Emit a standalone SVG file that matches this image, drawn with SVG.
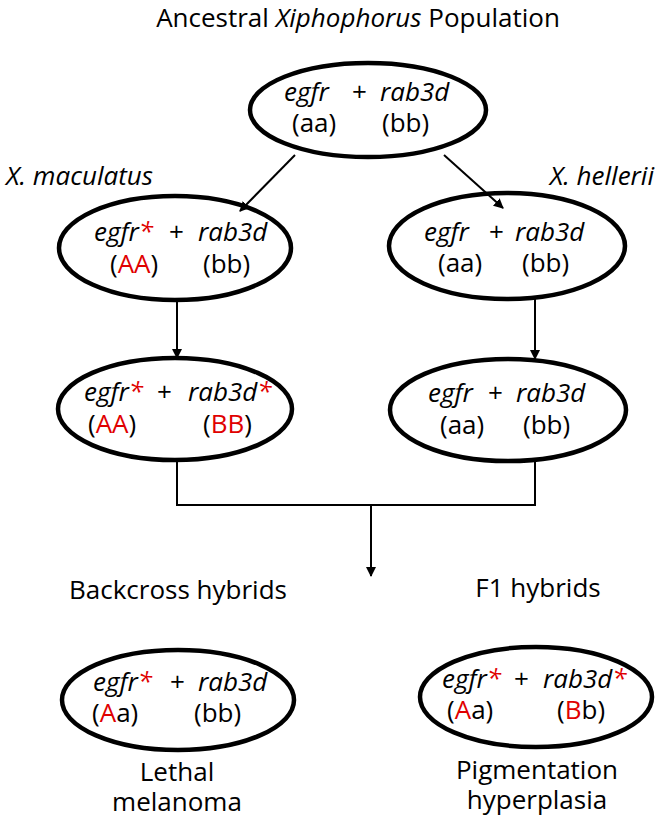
<svg xmlns="http://www.w3.org/2000/svg" width="661" height="818" viewBox="0 0 661 818">
<defs>
<style>
text{font-family:"Open Sans","DejaVu Sans",sans-serif;font-size:26px;fill:#000}
.i{font-style:italic}
.r{fill:#e00000}
.node{fill:none;stroke:#000;stroke-width:4.5}
.con{fill:none;stroke:#000;stroke-width:2}
</style>
<marker id="ah" viewBox="0 0 10 10" refX="9" refY="5" markerWidth="5" markerHeight="5" orient="auto"><path d="M0,0 L10,5 L0,10 z" fill="#000"/></marker>
</defs>
<rect width="661" height="818" fill="#fff"/>
<text x="358" y="27" text-anchor="middle">Ancestral <tspan class="i">Xiphophorus</tspan> Population</text>
<text class="i" x="6" y="185">X. maculatus</text>
<text class="i" x="654" y="185" text-anchor="end">X. hellerii</text>
<text x="178" y="599" text-anchor="middle">Backcross hybrids</text>
<text x="538" y="597" text-anchor="middle">F1 hybrids</text>
<text x="177" y="781" text-anchor="middle">Lethal</text>
<text x="177" y="811" text-anchor="middle">melanoma</text>
<text x="537" y="779" text-anchor="middle">Pigmentation</text>
<text x="537" y="809" text-anchor="middle">hyperplasia</text>
<g id="connectors">
<line class="con" x1="295" y1="155" x2="240" y2="211" marker-end="url(#ah)"/>
<line class="con" x1="444" y1="155" x2="503" y2="208" marker-end="url(#ah)"/>
<line class="con" x1="177" y1="300" x2="177" y2="358" marker-end="url(#ah)"/>
<line class="con" x1="535" y1="299" x2="535" y2="359" marker-end="url(#ah)"/>
<path class="con" d="M177,460 V505 H535 V461"/>
<line class="con" x1="371" y1="505" x2="371" y2="576" marker-end="url(#ah)"/>
</g>
<g id="n-ancestral">
<ellipse class="node" cx="368" cy="110" rx="118" ry="47"/>
<text class="i" x="284" y="101">egfr</text><text x="352" y="101">+</text><text class="i" x="380" y="101">rab3d</text>
<text x="292" y="132">(aa)</text><text x="382" y="132">(bb)</text>
</g>
<g id="n-mac1">
<ellipse class="node" cx="175" cy="248" rx="116" ry="52"/>
<text class="i" x="94" y="241">egfr<tspan class="r">*</tspan></text><text x="169" y="241">+</text><text class="i" x="198" y="241">rab3d</text>
<text x="110" y="273">(<tspan class="r">AA</tspan>)</text><text x="203" y="273">(bb)</text>
</g>
<g id="n-hel1">
<ellipse class="node" cx="507" cy="246" rx="118" ry="53"/>
<text class="i" x="424" y="241">egfr</text><text x="489" y="241">+</text><text class="i" x="515" y="241">rab3d</text>
<text x="438" y="272">(aa)</text><text x="522" y="272">(bb)</text>
</g>
<g id="n-mac2">
<ellipse class="node" cx="175" cy="409" rx="117" ry="51"/>
<text class="i" x="84" y="401">egfr<tspan class="r">*</tspan></text><text x="157" y="401">+</text><text class="i" x="188" y="401">rab3d<tspan class="r">*</tspan></text>
<text x="88" y="433">(<tspan class="r">AA</tspan>)</text><text x="203" y="433">(<tspan class="r">BB</tspan>)</text>
</g>
<g id="n-hel2">
<ellipse class="node" cx="508" cy="410" rx="118" ry="51"/>
<text class="i" x="428" y="402">egfr</text><text x="488" y="402">+</text><text class="i" x="516" y="402">rab3d</text>
<text x="440" y="434">(aa)</text><text x="523" y="434">(bb)</text>
</g>
<g id="n-back">
<ellipse class="node" cx="178" cy="700" rx="116" ry="50"/>
<text class="i" x="93" y="691">egfr<tspan class="r">*</tspan></text><text x="170" y="691">+</text><text class="i" x="198" y="691">rab3d</text>
<text x="92" y="722">(<tspan class="r">A</tspan>a)</text><text x="194" y="722">(bb)</text>
</g>
<g id="n-f1">
<ellipse class="node" cx="536" cy="697" rx="116" ry="50"/>
<text class="i" x="442" y="688">egfr<tspan class="r">*</tspan></text><text x="514" y="688">+</text><text class="i" x="543" y="688">rab3d<tspan class="r">*</tspan></text>
<text x="447" y="719">(<tspan class="r">A</tspan>a)</text><text x="557" y="719">(<tspan class="r">B</tspan>b)</text>
</g>
</svg>
